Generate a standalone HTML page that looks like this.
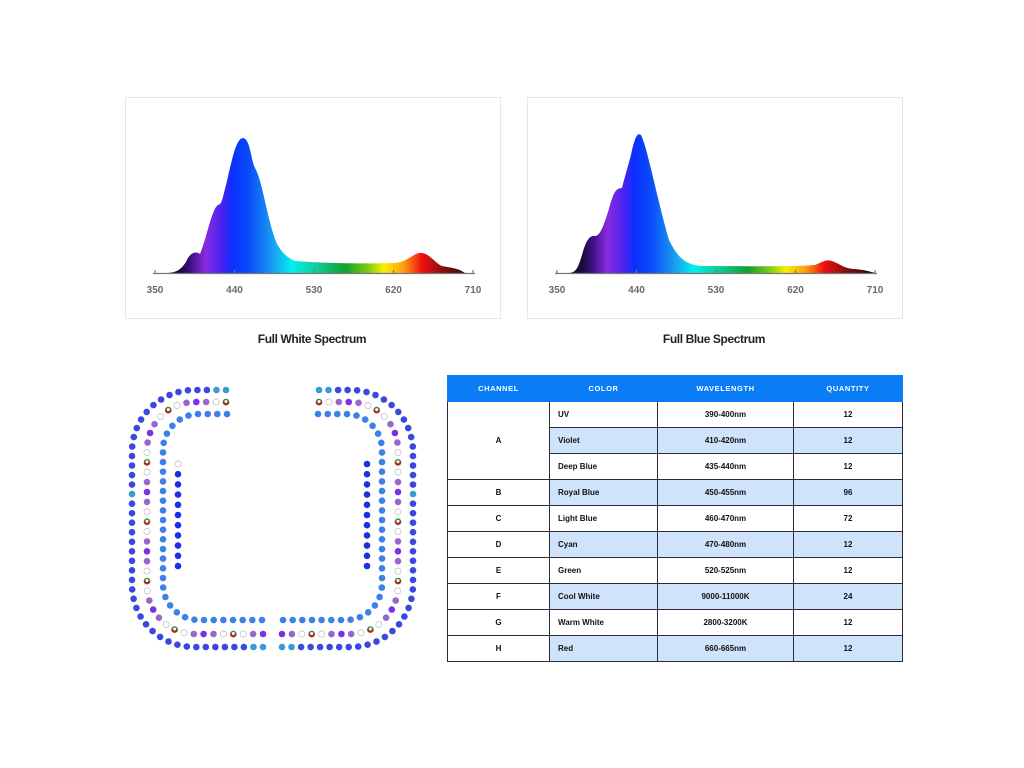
<!DOCTYPE html>
<html><head><meta charset="utf-8"><style>
html,body{margin:0;padding:0;background:#fff;width:1024px;height:768px;overflow:hidden;font-family:"Liberation Sans",sans-serif}
.box{position:absolute;border:1px solid #e6e6e6;background:#fff}
.title{position:absolute;font-weight:bold;font-size:12px;color:#222;letter-spacing:-0.4px;text-align:center;width:200px}
table{position:absolute;left:447px;top:375px;border-collapse:collapse;font-size:8px;font-weight:bold;color:#111}
td,th{border:1px solid #2a2a3a;padding:0;height:25px;text-align:center}
th{background:#0a7cf5;color:#fff;height:25px;letter-spacing:0.6px;font-size:7.5px;border-color:#0a7cf5}
td.l{text-align:left;padding-left:8px}
tr.b td.c{background:#cfe3fb}
</style></head><body>
<div class="box" style="left:125px;top:97px;width:374px;height:220px"></div>
<div class="box" style="left:527px;top:97px;width:374px;height:220px"></div>
<svg width="1024" height="768" style="position:absolute;left:0;top:0">
<defs>
<linearGradient id="g1" gradientUnits="userSpaceOnUse" x1="155" x2="473" y1="0" y2="0">
<stop offset="0.08" stop-color="#1a0a3a"/><stop offset="0.11" stop-color="#3a1080"/><stop offset="0.16" stop-color="#8a2be2"/><stop offset="0.21" stop-color="#4a22f0"/><stop offset="0.245" stop-color="#0a30ff"/><stop offset="0.3" stop-color="#0a50f8"/><stop offset="0.37" stop-color="#1a9cf0"/><stop offset="0.43" stop-color="#00f0ee"/><stop offset="0.5" stop-color="#10d0a0"/><stop offset="0.6" stop-color="#10a030"/><stop offset="0.67" stop-color="#80cc10"/><stop offset="0.72" stop-color="#f8f000"/><stop offset="0.78" stop-color="#ffa010"/><stop offset="0.84" stop-color="#f01010"/><stop offset="0.92" stop-color="#701010"/><stop offset="1" stop-color="#200808"/>
</linearGradient>
<linearGradient id="g2" href="#g1" gradientUnits="userSpaceOnUse" x1="557" x2="875" y1="0" y2="0"/>
</defs>
<path d="M165 273 C175 273 180 271 186 262 C190 252 196 251 200 254 C206 240 212 208 218 205 C222 204 222 200 226 185 C232 160 236 138 243 138 C250 138 251 160 255 168 C263 182 267 220 277 244 C283 254 288 258 295 261 C320 263 360 264 395 263 C408 262 414 252 422 253 C430 254 436 264 442 266 C452 268 458 268 465 273 Z" fill="url(#g1)"/>
<path d="M568 273 C576 273 578 268 582 255 C586 240 590 235 595 236 C600 236 604 226 610 205 C614 192 616 188 622 188 C626 172 630 160 632 150 C636 134 638 133 641 135 C648 150 655 190 669 240 C677 256 684 264 700 266 C740 266 790 267 815 265 C822 262 826 259 832 261 C840 264 845 269 855 269 C865 270 868 271 875 273 Z" fill="url(#g2)"/>
<g stroke="#777" stroke-width="1.2" fill="none">
<path d="M153 273.5H475M155 270v4M234.5 270v4M314 270v4M393.5 270v4M473 270v4"/>
<path d="M555 273.5H877M557 270v4M636.5 270v4M716 270v4M795.5 270v4M875 270v4"/>
</g>
<g font-size="10" font-weight="bold" fill="#6a6a6a" text-anchor="middle" font-family="Liberation Sans,sans-serif">
<text x="155" y="293">350</text><text x="234.5" y="293">440</text><text x="314" y="293">530</text><text x="393.5" y="293">620</text><text x="473" y="293">710</text>
<text x="557" y="293">350</text><text x="636.5" y="293">440</text><text x="716" y="293">530</text><text x="795.5" y="293">620</text><text x="875" y="293">710</text>
</g>
<g id="leds"></g>
</svg>
<div class="title" style="left:212px;top:332px">Full White Spectrum</div>
<div class="title" style="left:614px;top:332px">Full Blue Spectrum</div>
<table>
<colgroup><col style="width:102px"><col style="width:108px"><col style="width:136px"><col style="width:109px"></colgroup>
<tr><th>CHANNEL</th><th>COLOR</th><th>WAVELENGTH</th><th>QUANTITY</th></tr>
<tr><td rowspan="3">A</td><td class="l c">UV</td><td class="c">390-400nm</td><td class="c">12</td></tr>
<tr class="b"><td class="l c">Violet</td><td class="c">410-420nm</td><td class="c">12</td></tr>
<tr><td class="l c">Deep Blue</td><td class="c">435-440nm</td><td class="c">12</td></tr>
<tr class="b"><td>B</td><td class="l c">Royal Blue</td><td class="c">450-455nm</td><td class="c">96</td></tr>
<tr><td>C</td><td class="l c">Light Blue</td><td class="c">460-470nm</td><td class="c">72</td></tr>
<tr class="b"><td>D</td><td class="l c">Cyan</td><td class="c">470-480nm</td><td class="c">12</td></tr>
<tr><td>E</td><td class="l c">Green</td><td class="c">520-525nm</td><td class="c">12</td></tr>
<tr class="b"><td>F</td><td class="l c">Cool White</td><td class="c">9000-11000K</td><td class="c">24</td></tr>
<tr><td>G</td><td class="l c">Warm White</td><td class="c">2800-3200K</td><td class="c">12</td></tr>
<tr class="b"><td>H</td><td class="l c">Red</td><td class="c">660-665nm</td><td class="c">12</td></tr>
</table>
<script>
(function(){
var g=document.getElementById('leds'),out='';
function ring(xs,xe,left,top,bottom,r,sp){
 var pts=[];
 var L1=xs-(left+r),La=Math.PI*r/2,L2=(bottom-r)-(top+r),L3=xe-(left+r);
 var tot=L1+La+L2+La+L3,n=Math.round(tot/sp),step=tot/n;
 for(var i=0;i<=n;i++){var d=i*step,x,y;
  if(d<=L1){x=xs-d;y=top;}
  else if((d-=L1)<=La){var a=d/r;x=left+r-r*Math.sin(a);y=top+r-r*Math.cos(a);}
  else if((d-=La)<=L2){x=left;y=top+r+d;}
  else if((d-=L2)<=La){var a=d/r;x=left+r-r*Math.cos(a);y=bottom-r+r*Math.sin(a);}
  else{d-=La;x=left+r+d;y=bottom;}
  pts.push([x,y]);}
 return pts;}
function dot(x,y,c){
 if(c=='w')out+='<circle cx="'+x.toFixed(1)+'" cy="'+y.toFixed(1)+'" r="3.1" fill="#fff" stroke="#bbb" stroke-width="0.7"/>';
 else if(c=='m')out+='<circle cx="'+x.toFixed(1)+'" cy="'+y.toFixed(1)+'" r="3.3" fill="#2a8a3a"/><path d="M'+(x-3.3).toFixed(1)+' '+y.toFixed(1)+'a3.3 3.3 0 0 0 6.6 0z" fill="#c02020"/><circle cx="'+x.toFixed(1)+'" cy="'+(y-0.5).toFixed(1)+'" r="1.5" fill="#fff"/>';
 else out+='<circle cx="'+x.toFixed(1)+'" cy="'+y.toFixed(1)+'" r="3.3" fill="'+c+'"/>';}
var RB='#3a48e0',CY='#3a9ad6',LB='#3d80ea',DB='#1a30e6',P='#9a66cc',V='#7a30e8';
var pat=['m','w',P,V,P,'w','m','w',P,V,P,'w'];
[1,-1].forEach(function(s){
 function X(x){return s>0?x:545-x;}
 var o=ring(226,263,132,390,647,62,9.6);
 o.forEach(function(p,i){var c=RB;if(i<2||i>o.length-3||Math.abs(p[1]-495)<6&&p[0]<140)c=CY;dot(X(p[0]),p[1],c);});
 var r2=ring(226,263,147,402,634,48,9.8);
 r2.forEach(function(p,i){dot(X(p[0]),p[1],pat[i%pat.length]);});
 var r3=ring(227,262,163,414,620,36,9.6);
 r3.forEach(function(p){dot(X(p[0]),p[1],LB);});
 for(var y=464;y<=576;y+=10.2){dot(X(178),y,(s>0&&y<470)?'w':DB);}
});
g.innerHTML=out;
})();
</script>
</body></html>
